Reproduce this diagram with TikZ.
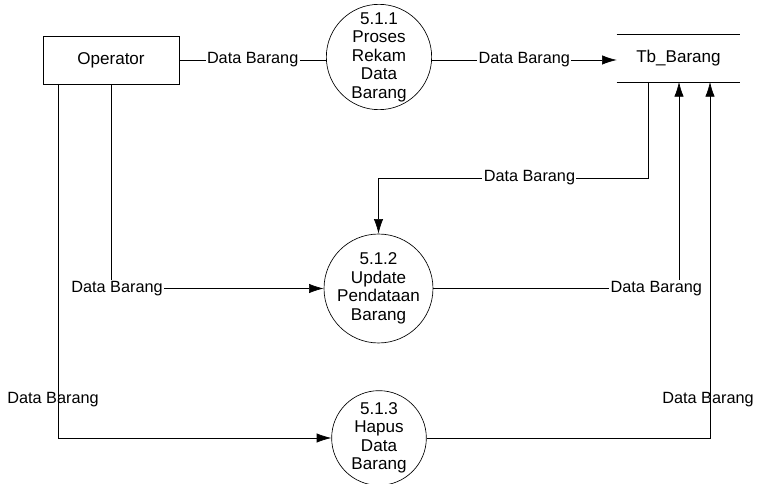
\documentclass[tikz,border=0pt]{standalone}
\usepackage{fontspec}
\setmainfont{Liberation Sans}
\usetikzlibrary{arrows.meta}
\begin{document}
\begin{tikzpicture}[x=0.75pt,y=-0.75pt,
  every node/.style={font=\fontsize{12.2}{13.7}\selectfont},
  proc/.style={draw, circle, inner sep=0pt, align=center, line width=0.5pt, font=\fontsize{12.8}{13.9}\selectfont},
  ent/.style={draw, rectangle, minimum width=102pt, minimum height=36pt, line width=0.5pt, font=\fontsize{12.8}{14}\selectfont},
  storebox/.style={minimum width=92.25pt, minimum height=35.25pt, inner sep=0pt, font=\fontsize{12.8}{14}\selectfont},
  flow/.style={line width=0.5pt},
  farrow/.style={flow, -{Latex[length=11pt,width=7pt]}},
  lab/.style={fill=white, inner sep=1pt},
  labt/.style={inner sep=1pt}]
\useasboundingbox (0,0) rectangle (758,484);
% nodes
\node[ent] (op) at (111,60) {Operator};
\node[proc, minimum size=79pt] (p1) at (379,57) {5.1.1\\Proses\\Rekam\\Data\\Barang};
\node[proc, minimum size=70pt] (p2) at (378.5,288.5) {5.1.2\\Update\\Pendataan\\Barang};
\node[proc, minimum size=71pt] (p3) at (379,438) {5.1.3\\Hapus\\Data\\Barang};
\node[storebox] (st) at (678.5,58.5) {Tb\_Barang};
\draw[flow] (st.north west) -- (st.north east);
\draw[flow] (st.south west) -- (st.south east);
% connector end points
\coordinate (sA) at (648,82);
\coordinate (sB) at (679,82);
\coordinate (sC) at (710,82);
\coordinate (oB) at (58,84);
% connectors
\draw[flow] (op.east) -- node[lab]{Data Barang} (op.east -| p1.west);
\draw[farrow] (p1.east |- op.east) -- node[lab]{Data Barang} (st.west |- op.east);
\draw[farrow] (sA) -- (sA |- 0,178) -- node[lab,pos=0.44]{Data Barang} (p2.north |- 0,178) -- (p2.north);
\draw[farrow] (op.south) |- node[lab,pos=0.5,xshift=4.5pt]{Data Barang} (p2.west);
\draw[farrow] (oB) |- (p3.west);
\node[labt] (l5) at (53,400) {Data Barang};
\draw[farrow] (p2.east) -| node[lab,pos=0.5,xshift=-17pt]{Data Barang} (sB);
\draw[farrow] (p3.east) -| (sC);
\node[labt] (l7) at (708,400) {Data Barang};
\end{tikzpicture}
\end{document}
